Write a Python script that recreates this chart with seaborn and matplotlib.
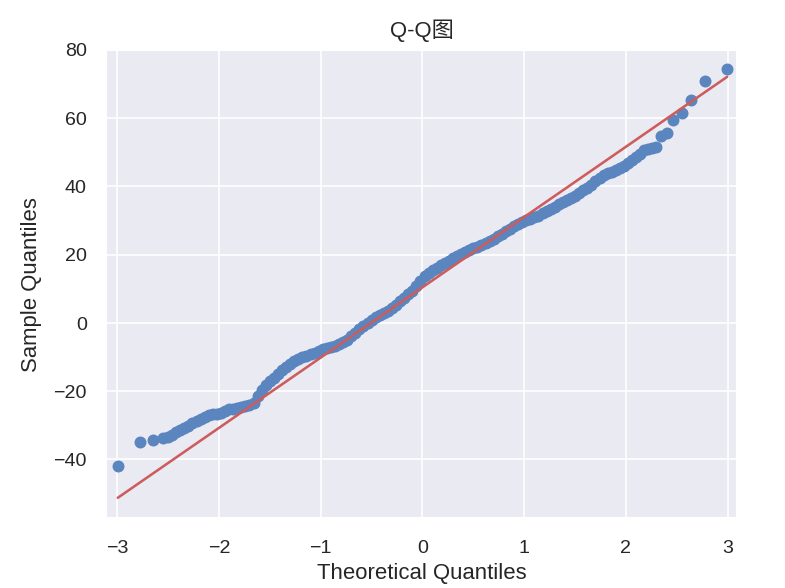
import numpy as np
import pandas as pd
import matplotlib
matplotlib.use("Agg")
import matplotlib.pyplot as plt
import seaborn as sns

# Theoretical quantiles (x) and sample quantiles (y)
theoretical = [
    -2.994, -2.775, -2.644, -2.546, -2.50,
    -2.46, -2.42, -2.38, -2.34, -2.30, -2.26, -2.22, -2.18, -2.14, -2.10,
    -2.06, -2.02, -1.98, -1.94, -1.90, -1.86, -1.82, -1.78, -1.74, -1.70,
    -1.66, -1.62, -1.58, -1.54, -1.50, -1.46, -1.42, -1.38, -1.34, -1.30,
    -1.26, -1.22, -1.18, -1.14, -1.10, -1.06, -1.02, -0.98, -0.94, -0.90,
    -0.86, -0.82, -0.78, -0.74, -0.70, -0.66, -0.62, -0.58, -0.54, -0.50,
    -0.46, -0.42, -0.38, -0.34, -0.30, -0.26, -0.22, -0.18, -0.14, -0.10,
    -0.06, -0.02, 0.02, 0.06, 0.10, 0.14, 0.18, 0.22, 0.26, 0.30,
    0.34, 0.38, 0.42, 0.46, 0.50, 0.54, 0.58, 0.62, 0.66, 0.70,
    0.74, 0.78, 0.82, 0.86, 0.90, 0.94, 0.98, 1.02, 1.06, 1.10,
    1.14, 1.18, 1.22, 1.26, 1.30, 1.34, 1.38, 1.42, 1.46, 1.50,
    1.54, 1.58, 1.62, 1.66, 1.70, 1.74, 1.78, 1.82, 1.86, 1.90,
    1.94, 1.98, 2.02, 2.06, 2.10, 2.14, 2.18, 2.22, 2.26, 2.29,
    2.34, 2.40, 2.46, 2.55, 2.64, 2.78, 2.994,
]
sample = [
    -42.1, -34.8, -34.4, -33.9, -33.4,
    -32.8, -32.0, -31.3, -30.7, -30.1, -29.5, -28.9, -28.3, -27.7, -27.1,
    -26.8, -26.6, -26.3, -25.8, -25.4, -25.2, -24.9, -24.6, -24.4, -24.2,
    -23.6, -21.4, -19.6, -18.3, -17.0, -16.2, -15.0, -13.8, -12.9, -12.1,
    -11.3, -10.6, -10.1, -9.6, -9.2, -8.8, -8.2, -7.8, -7.5, -7.2,
    -6.7, -6.1, -5.5, -4.9, -3.9, -3.0, -1.9, -1.0, -0.2, 0.7,
    1.6, 2.2, 2.9, 3.6, 4.4, 5.3, 6.3, 7.3, 8.4, 9.4,
    10.7, 12.2, 13.6, 14.5, 15.4, 16.0, 16.8, 17.5, 18.2, 18.9,
    19.5, 20.1, 20.7, 21.3, 21.8, 22.3, 22.9, 23.3, 23.9, 24.7,
    25.4, 26.1, 26.9, 27.6, 28.3, 29.0, 29.5, 30.0, 30.5, 30.9,
    31.4, 32.1, 32.7, 33.3, 34.0, 34.8, 35.4, 35.9, 36.6, 37.3,
    37.9, 38.8, 39.6, 40.5, 41.5, 42.5, 43.2, 43.9, 44.3, 44.8,
    45.3, 46.0, 46.8, 47.6, 48.6, 49.6, 50.5, 51.0, 51.3, 51.4,
    54.8, 55.7, 59.3, 61.4, 65.3, 70.9, 74.4,
]
# Reference line (slope, intercept)
line_slope = 20.6
line_intercept = 10.4

title = "Q-Q图"
xlabel = "Theoretical Quantiles"
ylabel = "Sample Quantiles"

sns.set_theme(style="darkgrid")
plt.rcParams["font.family"] = ["Liberation Sans", "Noto Sans CJK SC", "DejaVu Sans"]
plt.rcParams["axes.unicode_minus"] = True

df = pd.DataFrame({"theoretical": theoretical, "sample": sample})

fig = plt.figure(figsize=(6.4, 4.79), dpi=122.8)
ax = fig.add_subplot(111)
fig.subplots_adjust(left=0.1355, right=0.9383, top=0.915, bottom=0.119)

point_color = "#5A85BE"
line_color = "#CD5C5C"

sns.scatterplot(data=df, x="theoretical", y="sample", ax=ax, color=point_color,
                s=36, edgecolor=point_color, linewidth=1, marker="o", zorder=3)

xs = np.array([min(theoretical), max(theoretical)])
line_df = pd.DataFrame({"x": xs, "y": line_intercept + line_slope * xs})
sns.lineplot(data=line_df, x="x", y="y", ax=ax, color=line_color, linewidth=1.5, zorder=4)

ax.set_xlim(-3.105, 3.095)
ax.set_ylim(-57.2, 80.0)
ax.set_xticks([-3, -2, -1, 0, 1, 2, 3])
ax.set_yticks([-40, -20, 0, 20, 40, 60, 80])
ax.set_title(title, fontsize=13, pad=7.5)
ax.set_xlabel(xlabel, fontsize=13, labelpad=3.5)
ax.set_ylabel(ylabel, fontsize=13, labelpad=6.5)
ax.tick_params(axis="x", labelsize=11.5, pad=7)
ax.tick_params(axis="y", labelsize=11.5, pad=5.5)

fig.savefig("out.png", dpi=122.8)
